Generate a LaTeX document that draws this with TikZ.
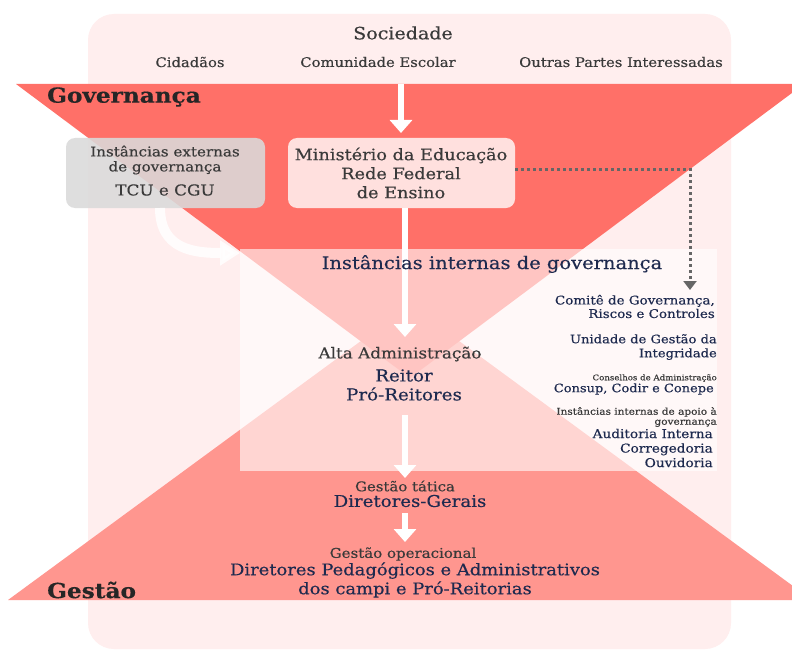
\documentclass[tikz,border=0pt]{standalone}
\usepackage{fontspec}
\setmainfont{DejaVu Serif}[FakeStretch=1.12, FakeBold=0.4]
\usetikzlibrary{arrows.meta}
\definecolor{fundo}{HTML}{FFEEEE}
\definecolor{govred}{HTML}{FF7068}
\definecolor{gesred}{HTML}{FF968F}
\definecolor{caixa}{HTML}{FFE0DE}
\definecolor{cinza}{HTML}{DADADA}
\definecolor{marinho}{HTML}{1E2A4F}
\definecolor{texto}{HTML}{3A3A3A}
\tikzset{
  rotulo/.style={inner sep=0pt, text=texto},
  nome/.style={inner sep=0pt, text=marinho},
  seta/.style={white, line width=6pt, -{Triangle[width=22pt,length=13pt]}},
  pontos/.style={draw=black!60, line width=3pt, dash pattern=on 3pt off 3pt},
}
\begin{document}
\begin{tikzpicture}[x=1pt,y=-1pt]
        \useasboundingbox (0,0) rectangle (792,650);
        \clip (0,0) rectangle (792,650);
        % fundo
        \fill[white] (0,0) rectangle (792,650);
        \fill[fundo, rounded corners=26pt] (88,14) rectangle (731,649);
        % triangulos
        \fill[gesred] (410,305) -- (812,600) -- (8,600) -- cycle;
        \fill[govred] (16,84) -- (804,84) -- (410,378) -- cycle;
        \fill[white, opacity=0.6] (240,249) rectangle (717,471);
        % caixas
        \fill[cinza, opacity=0.88, rounded corners=9pt] (66,138) rectangle (265,208);
        \fill[caixa, rounded corners=9pt] (288,138) rectangle (515,208);
        \coordinate (mecN) at (401,84);
        \coordinate (mecS) at (405,208);
        \coordinate (mecE) at (515,169);
        \coordinate (extS) at (160,208);
        \coordinate (intW) at (240,253);
        % setas
        \draw[seta] (mecN) -- (401,133);
        \draw[seta] (mecS) -- (405,337);
        \draw[seta] (405,415) -- (405,478);
        \draw[seta] (405,513) -- (405,542);
        \draw[white, opacity=0.85, line width=10pt, -{Triangle[width=24pt,length=20pt]}] (extS) .. controls (160,250) and (195,253) .. (intW);
        \draw[pontos, -{Triangle[width=13pt,length=9pt]}] (mecE) -- (690,169) -- (690,290);
        % sociedade
        \node[rotulo, font=\fontsize{17}{19}\selectfont] (soc) at (403,33) {Sociedade};
        \node[rotulo, font=\fontsize{13.2}{15}\selectfont] (cid) at (190,62) {Cidadãos};
        \node[rotulo, font=\fontsize{13.2}{15}\selectfont] (com) at (378,62) {Comunidade Escolar};
        \node[rotulo, font=\fontsize{13.2}{15}\selectfont] (out) at (621,62) {Outras Partes Interessadas};
        \node[inner sep=0pt, text=black!85, font=\bfseries\fontsize{20.7}{23}\selectfont, anchor=west] (gov) at (47,97) {Governança};
        \node[inner sep=0pt, text=black!85, font=\bfseries\fontsize{20.7}{23}\selectfont, anchor=west] (ges) at (47,590) {Gestão};
        % caixas: textos
        \node[rotulo, align=center, font=\fontsize{13.5}{15}\selectfont] (ext) at (165,160) {Instâncias externas\\de governança};
        \node[rotulo, font=\fontsize{15}{17}\selectfont] (tcu) at (165,190) {TCU e CGU};
        \node[rotulo, align=center, font=\fontsize{15.8}{19}\selectfont] (mec) at (401,173) {Ministério da Educação\\Rede Federal\\de Ensino};
        % internas
        \node[nome, font=\fontsize{17.4}{19}\selectfont] (int) at (492,264) {Instâncias internas de governança};
        \node[rotulo, font=\fontsize{15}{17}\selectfont] (alta) at (400,354) {Alta Administração};
        \node[nome, align=center, font=\fontsize{16.3}{19}\selectfont] (reitor) at (404,385) {Reitor\\Pró-Reitores};
        \node[nome, align=right, anchor=east, font=\fontsize{12}{13.5}\selectfont] (comite) at (715,306.5) {Comitê de Governança,\\Riscos e Controles};
        \node[nome, align=right, anchor=east, font=\fontsize{11.7}{14}\selectfont] (ugi) at (717,347) {Unidade de Gestão da\\Integridade};
        \node[rotulo, anchor=east, font=\fontsize{7.7}{9}\selectfont] (cons) at (717,378) {Conselhos de Administração};
        \node[nome, anchor=east, font=\fontsize{11.6}{13}\selectfont] (consup) at (714,389) {Consup, Codir e Conepe};
        \node[rotulo, align=right, anchor=east, font=\fontsize{9.4}{10}\selectfont] (apoio) at (717,417) {Instâncias internas de apoio à\\governança};
        \node[nome, align=right, anchor=east, font=\fontsize{12.2}{14.5}\selectfont] (aud) at (713,448) {Auditoria Interna\\Corregedoria\\Ouvidoria};
        % gestao
        \node[rotulo, font=\fontsize{13.3}{15}\selectfont] (tat) at (405,486) {Gestão tática};
        \node[nome, font=\fontsize{16.2}{18}\selectfont] (dg) at (410,501) {Diretores-Gerais};
        \node[rotulo, font=\fontsize{13.4}{15}\selectfont] (op) at (403,554) {Gestão operacional};
        \node[nome, align=center, font=\fontsize{16}{19}\selectfont] (dir) at (415,580) {Diretores Pedagógicos e Administrativos\\dos campi e Pró-Reitorias};
\end{tikzpicture}
\end{document}
